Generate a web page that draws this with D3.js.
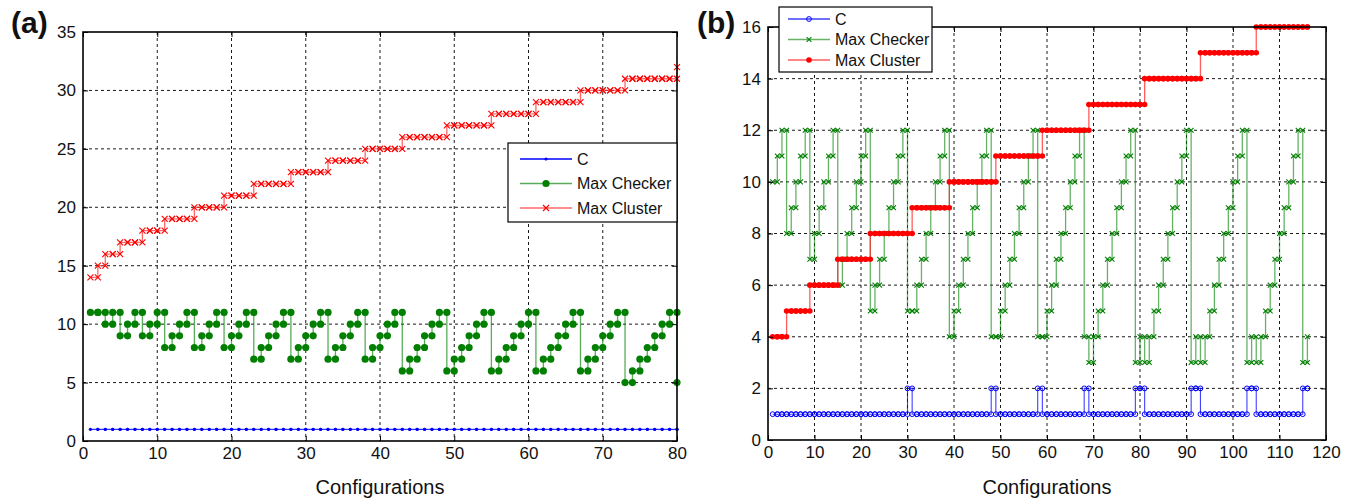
<!DOCTYPE html>
<html>
<head>
<meta charset="utf-8">
<script src="https://cdn.jsdelivr.net/npm/d3@7/dist/d3.min.js"></script>
<style>
  body { margin: 0; background: #fff; }
  svg { font-family: Arial, "Liberation Sans", sans-serif; }
</style>
</head>
<body>
<svg id="chart" width="1355" height="498"></svg>
<script>
"use strict";

// ---- panel (a) data ----
var aXTicks = [0, 10, 20, 30, 40, 50, 60, 70, 80];
var aYTicks = [0, 5, 10, 15, 20, 25, 30, 35];
var aC = [
  1, 1, 1, 1, 1, 1, 1, 1, 1, 1,
  1, 1, 1, 1, 1, 1, 1, 1, 1, 1,
  1, 1, 1, 1, 1, 1, 1, 1, 1, 1,
  1, 1, 1, 1, 1, 1, 1, 1, 1, 1,
  1, 1, 1, 1, 1, 1, 1, 1, 1, 1,
  1, 1, 1, 1, 1, 1, 1, 1, 1, 1,
  1, 1, 1, 1, 1, 1, 1, 1, 1, 1,
  1, 1, 1, 1, 1, 1, 1, 1, 1, 1
];
var aMaxChecker = [
  11, 11, 10, 11, 9, 10, 11, 9, 10, 11,
  8, 9, 10, 11, 8, 9, 10, 11, 8, 9,
  10, 11, 7, 8, 9, 10, 11, 7, 8, 9,
  10, 11, 7, 8, 9, 10, 11, 7, 8, 9,
  10, 11, 6, 7, 8, 9, 10, 11, 6, 7,
  8, 9, 10, 11, 6, 7, 8, 9, 10, 11,
  6, 7, 8, 9, 10, 11, 6, 7, 8, 9,
  10, 11, 5, 6, 7, 8, 9, 10, 11, 5
];
var aMaxCluster = [
  14, 15, 16, 16, 17, 17, 17, 18, 18, 18,
  19, 19, 19, 19, 20, 20, 20, 20, 21, 21,
  21, 21, 22, 22, 22, 22, 22, 23, 23, 23,
  23, 23, 24, 24, 24, 24, 24, 25, 25, 25,
  25, 25, 26, 26, 26, 26, 26, 26, 27, 27,
  27, 27, 27, 27, 28, 28, 28, 28, 28, 28,
  29, 29, 29, 29, 29, 29, 30, 30, 30, 30,
  30, 30, 31, 31, 31, 31, 31, 31, 31, 32
];

// ---- panel (b) data ----
var bXTicks = [0, 10, 20, 30, 40, 50, 60, 70, 80, 90, 100, 110, 120];
var bYTicks = [0, 2, 4, 6, 8, 10, 12, 14, 16];
var bC = [
  1, 1, 1, 1, 1, 1, 1, 1, 1, 1,
  1, 1, 1, 1, 1, 1, 1, 1, 1, 1,
  1, 1, 1, 1, 1, 1, 1, 1, 1, 2,
  1, 1, 1, 1, 1, 1, 1, 1, 1, 1,
  1, 1, 1, 1, 1, 1, 1, 2, 1, 1,
  1, 1, 1, 1, 1, 1, 1, 2, 1, 1,
  1, 1, 1, 1, 1, 1, 1, 2, 1, 1,
  1, 1, 1, 1, 1, 1, 1, 1, 2, 2,
  1, 1, 1, 1, 1, 1, 1, 1, 1, 1,
  2, 2, 1, 1, 1, 1, 1, 1, 1, 1,
  1, 1, 2, 2, 1, 1, 1, 1, 1, 1,
  1, 1, 1, 1, 2, 2
];
var bMaxChecker = [
  10, 11, 12, 8, 9, 10, 11, 12, 7, 8,
  9, 10, 11, 12, 6, 7, 8, 9, 10, 11,
  12, 5, 6, 7, 8, 9, 10, 11, 12, 5,
  5, 6, 7, 8, 9, 10, 11, 12, 4, 5,
  6, 7, 8, 9, 10, 11, 12, 4, 4, 5,
  6, 7, 8, 9, 10, 11, 12, 4, 4, 5,
  6, 7, 8, 9, 10, 11, 12, 4, 3, 4,
  5, 6, 7, 8, 9, 10, 11, 12, 3, 4,
  3, 4, 5, 6, 7, 8, 9, 10, 11, 12,
  3, 4, 3, 4, 5, 6, 7, 8, 9, 10,
  11, 12, 3, 4, 3, 4, 5, 6, 7, 8,
  9, 10, 11, 12, 3, 4
];
var bMaxCluster = [
  4, 4, 4, 5, 5, 5, 5, 5, 6, 6,
  6, 6, 6, 6, 7, 7, 7, 7, 7, 7,
  7, 8, 8, 8, 8, 8, 8, 8, 8, 8,
  9, 9, 9, 9, 9, 9, 9, 9, 10, 10,
  10, 10, 10, 10, 10, 10, 10, 10, 11, 11,
  11, 11, 11, 11, 11, 11, 11, 11, 12, 12,
  12, 12, 12, 12, 12, 12, 12, 12, 13, 13,
  13, 13, 13, 13, 13, 13, 13, 13, 13, 13,
  14, 14, 14, 14, 14, 14, 14, 14, 14, 14,
  14, 14, 15, 15, 15, 15, 15, 15, 15, 15,
  15, 15, 15, 15, 16, 16, 16, 16, 16, 16,
  16, 16, 16, 16, 16, 16
];
var seriesNames = ["C", "Max Checker", "Max Cluster"];

var svg = d3.select("#chart");

// stairs vertices, MATLAB style: markers at every corner
function stairPoints(values) {
  var pts = [];
  values.forEach(function (v, i) {
    if (i > 0) pts.push([i + 1, values[i - 1]]);
    pts.push([i + 1, v]);
  });
  return pts;
}

function drawMarker(sel, kind, size, color) {
  if (kind === "dot") {
    sel.append("circle").attr("r", size).attr("fill", color);
  } else if (kind === "open") {
    sel.append("circle").attr("r", size).attr("fill", "none")
      .attr("stroke", color).attr("stroke-width", 1);
  } else if (kind === "x") {
    sel.append("path")
      .attr("d", "M" + (-size) + "," + (-size) + "L" + size + "," + size +
                 "M" + (-size) + "," + size + "L" + size + "," + (-size))
      .attr("stroke", color).attr("stroke-width", 1.1).attr("fill", "none");
  }
}

function drawPanel(cfg) {
  var x = d3.scaleLinear().domain([cfg.xTicks[0], cfg.xTicks[cfg.xTicks.length - 1]]).range([cfg.left, cfg.right]);
  var y = d3.scaleLinear().domain([cfg.yTicks[0], cfg.yTicks[cfg.yTicks.length - 1]]).range([cfg.bottom, cfg.top]);
  var g = svg.append("g");

  // dashed grid
  g.append("g").selectAll("line")
    .data(cfg.xTicks.slice(1, -1))
    .enter().append("line")
    .attr("x1", function (d) { return x(d); }).attr("x2", function (d) { return x(d); })
    .attr("y1", cfg.top).attr("y2", cfg.bottom)
    .attr("stroke", "#000").attr("stroke-width", 0.9).attr("stroke-dasharray", "3,3");
  g.append("g").selectAll("line")
    .data(cfg.yTicks.slice(1, -1))
    .enter().append("line")
    .attr("y1", function (d) { return y(d); }).attr("y2", function (d) { return y(d); })
    .attr("x1", cfg.left).attr("x2", cfg.right)
    .attr("stroke", "#000").attr("stroke-width", 0.9).attr("stroke-dasharray", "3,3");

  // series
  cfg.series.forEach(function (s) {
    var pts = stairPoints(s.values);
    g.append("path")
      .datum(pts)
      .attr("fill", "none")
      .attr("stroke", s.lineColor)
      .attr("stroke-width", s.lineWidth)
      .attr("d", d3.line().x(function (d) { return x(d[0]); }).y(function (d) { return y(d[1]); }));
    g.append("g").selectAll("g")
      .data(pts)
      .enter().append("g")
      .attr("transform", function (d) { return "translate(" + x(d[0]) + "," + y(d[1]) + ")"; })
      .each(function () { drawMarker(d3.select(this), s.marker, s.size, s.color); });
  });

  // axes (ticks point inwards)
  var xAxis = d3.axisBottom(x).tickValues(cfg.xTicks).tickSizeInner(-5).tickSizeOuter(0).tickPadding(6);
  var yAxis = d3.axisLeft(y).tickValues(cfg.yTicks).tickSizeInner(-5).tickSizeOuter(0).tickPadding(7);
  var gx = g.append("g").attr("transform", "translate(0," + cfg.bottom + ")").call(xAxis);
  var gy = g.append("g").attr("transform", "translate(" + cfg.left + ",0)").call(yAxis);
  [gx, gy].forEach(function (ax) {
    ax.select(".domain").remove();
    ax.selectAll("text").attr("font-size", 17).attr("fill", "#111").attr("font-family", "Arial, 'Liberation Sans', sans-serif");
    ax.selectAll("line").attr("stroke", "#000");
  });
  g.append("g").attr("transform", "translate(0," + cfg.top + ")")
    .call(d3.axisTop(x).tickValues(cfg.xTicks).tickSizeInner(-5).tickSizeOuter(0).tickFormat(""))
    .select(".domain").remove();
  g.append("g").attr("transform", "translate(" + cfg.right + ",0)")
    .call(d3.axisRight(y).tickValues(cfg.yTicks).tickSizeInner(-5).tickSizeOuter(0).tickFormat(""))
    .select(".domain").remove();

  g.append("rect")
    .attr("x", cfg.left).attr("y", cfg.top)
    .attr("width", cfg.right - cfg.left).attr("height", cfg.bottom - cfg.top)
    .attr("fill", "none").attr("stroke", "#000").attr("stroke-width", 1.6);

  g.append("text")
    .attr("x", (cfg.left + cfg.right) / 2).attr("y", 494)
    .attr("text-anchor", "middle").attr("font-size", 20).attr("fill", "#111")
    .text("Configurations");

  g.append("text")
    .attr("x", cfg.labelX).attr("y", 33)
    .attr("font-size", 30).attr("font-weight", "bold").attr("fill", "#111")
    .text(cfg.label);

  // legend
  var lg = cfg.legend;
  var leg = svg.append("g");
  leg.append("rect")
    .attr("x", lg.x).attr("y", lg.y).attr("width", lg.w).attr("height", lg.h)
    .attr("fill", "#fff").attr("stroke", "#000").attr("stroke-width", 1.2);
  cfg.series.forEach(function (s, i) {
    var ly = lg.y + lg.firstRow + i * lg.rowGap;
    leg.append("line")
      .attr("x1", lg.x + lg.lineStart).attr("x2", lg.x + lg.lineEnd)
      .attr("y1", ly).attr("y2", ly)
      .attr("stroke", s.lineColor).attr("stroke-width", 1.6);
    drawMarker(leg.append("g").attr("transform", "translate(" + (lg.x + (lg.lineStart + lg.lineEnd) / 2) + "," + ly + ")"),
      s.marker, s.size, s.color);
    leg.append("text")
      .attr("x", lg.x + lg.textX).attr("y", ly).attr("dy", "0.35em")
      .attr("font-size", 16).attr("fill", "#111")
      .text(seriesNames[i]);
  });
}

drawPanel({
  label: "(a)", labelX: 11,
  left: 83, right: 677, top: 32, bottom: 441,
  xTicks: aXTicks, yTicks: aYTicks,
  series: [
    { values: aC, color: "#0000ff", lineColor: "#0000ff", lineWidth: 1, marker: "dot", size: 1.6 },
    { values: aMaxChecker, color: "#007f00", lineColor: "rgba(0,128,0,0.65)", lineWidth: 1.3, marker: "dot", size: 3.6 },
    { values: aMaxCluster, color: "#ff0000", lineColor: "rgba(255,40,40,0.7)", lineWidth: 1.3, marker: "x", size: 3 }
  ],
  legend: { x: 508, y: 143, w: 169, h: 79, firstRow: 16, rowGap: 24.5, lineStart: 12, lineEnd: 64, textX: 69 }
});

drawPanel({
  label: "(b)", labelX: 697,
  left: 768, right: 1326, top: 27, bottom: 440,
  xTicks: bXTicks, yTicks: bYTicks,
  series: [
    { values: bC, color: "#0000ff", lineColor: "rgba(0,0,255,0.75)", lineWidth: 1.1, marker: "open", size: 2.4 },
    { values: bMaxChecker, color: "#007f00", lineColor: "rgba(0,128,0,0.6)", lineWidth: 1.3, marker: "x", size: 2.4 },
    { values: bMaxCluster, color: "#ff0000", lineColor: "rgba(255,40,40,0.75)", lineWidth: 1.3, marker: "dot", size: 2.8 }
  ],
  legend: { x: 779, y: 7, w: 153, h: 65, firstRow: 12, rowGap: 20.5, lineStart: 9, lineEnd: 51, textX: 56 }
});
</script>
</body>
</html>
